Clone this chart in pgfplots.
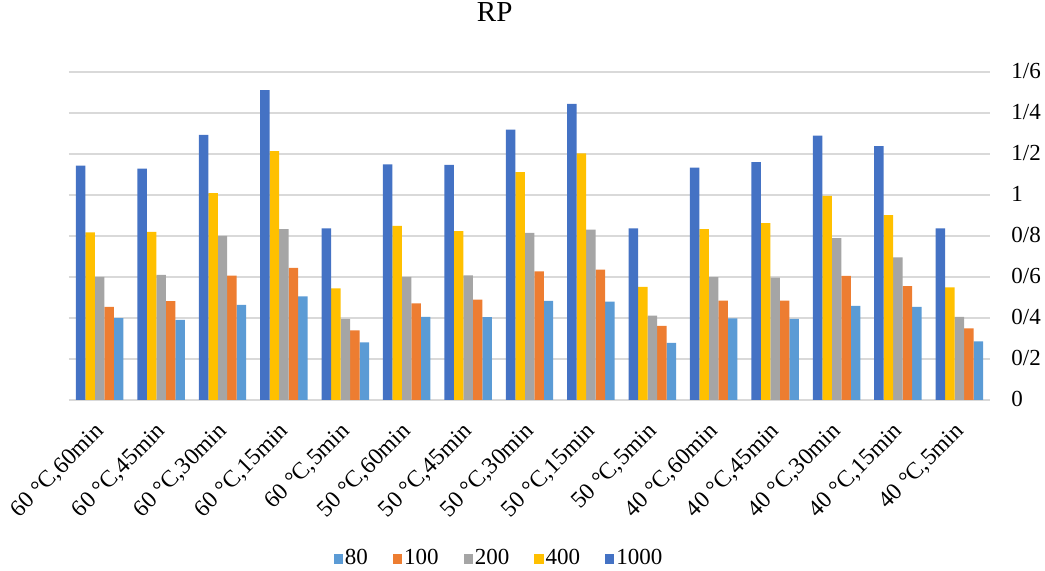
\documentclass[border=0pt]{standalone}
\usepackage{fontspec}
\setmainfont{Liberation Serif}
\usepackage{pgfplots}
\usepackage{pgfplotstable}
\pgfplotsset{compat=1.18}
\definecolor{c80}{HTML}{5B9BD5}
\definecolor{c100}{HTML}{ED7D31}
\definecolor{c200}{HTML}{A5A5A5}
\definecolor{c400}{HTML}{FFC000}
\definecolor{c1000}{HTML}{4472C4}
\definecolor{gridc}{HTML}{D9D9D9}
\pgfplotstableread{
x v80 v100 v200 v400 v1000
0 0.399 0.454 0.600 0.818 1.143
1 0.391 0.482 0.610 0.820 1.129
2 0.464 0.607 0.800 1.009 1.293
3 0.506 0.644 0.834 1.214 1.511
4 0.281 0.339 0.396 0.545 0.837
5 0.406 0.471 0.600 0.849 1.149
6 0.404 0.490 0.608 0.824 1.147
7 0.484 0.628 0.815 1.112 1.319
8 0.480 0.636 0.831 1.203 1.444
9 0.279 0.362 0.411 0.552 0.837
10 0.398 0.485 0.599 0.834 1.133
11 0.396 0.485 0.597 0.863 1.160
12 0.459 0.605 0.789 0.996 1.290
13 0.454 0.555 0.696 0.902 1.238
14 0.286 0.349 0.406 0.549 0.837
}\datatable
\pgfplotsset{mybar/.style 2 args={ybar, bar width=0.1547, bar shift=#1, fill=#2, draw=none,
  legend image code/.code={\fill[#2] (0pt,-2.4pt) rectangle (4.6pt,2.4pt);}}}
\begin{document}
\begin{tikzpicture}
\useasboundingbox (0,0) rectangle (522.5pt,285.5pt);
\begin{axis}[
  at={(34.5pt,85.5pt)}, anchor=south west,
  scale only axis, width=460.5pt, height=164pt,
  xmin=-0.5, xmax=14.5, ymin=0, ymax=1.6,
  axis line style={draw=none},
  ymajorgrids, grid style={gridc, line width=1pt},
  major tick length=0pt,
  xtick={0,...,14},
  xticklabels={{60 °C,60min},{60 °C,45min},{60 °C,30min},{60 °C,15min},{60 °C,5min},
               {50 °C,60min},{50 °C,45min},{50 °C,30min},{50 °C,15min},{50 °C,5min},
               {40 °C,60min},{40 °C,45min},{40 °C,30min},{40 °C,15min},{40 °C,5min}},
  xticklabel style={xshift=-3pt, yshift=-10.5pt, rotate=45, anchor=north east, inner sep=0pt,
    font=\fontsize{11.8}{14}\selectfont},
  ytick={0,0.2,0.4,0.6,0.8,1,1.2,1.4,1.6},
  yticklabels={0,0/2,0/4,0/6,0/8,1,1/2,1/4,1/6},
  ytick pos=right,
  yticklabel style={anchor=base west, inner sep=0pt, xshift=10.5pt, yshift=-0.33em,
    font=\fontsize{11.5}{13}\selectfont},
  title={RP},
  title style={at={(axis description cs:0.4622,1.1177)}, anchor=base, inner sep=0pt,
    font=\fontsize{14.5}{16}\selectfont},
  legend columns=-1,
  legend style={draw=none, fill=none, inner sep=0pt, nodes={inner sep=1pt},
    font=\fontsize{11.5}{13}\selectfont,
    /tikz/every even column/.append style={column sep=11.5pt},
    at={(axis description cs:0.4669,-0.484)}, anchor=center},
]
\addplot[mybar={0.3094}{c80}] table[x=x, y=v80] {\datatable};
\addplot[mybar={0.1547}{c100}] table[x=x, y=v100] {\datatable};
\addplot[mybar={0}{c200}] table[x=x, y=v200] {\datatable};
\addplot[mybar={-0.1547}{c400}] table[x=x, y=v400] {\datatable};
\addplot[mybar={-0.3094}{c1000}] table[x=x, y=v1000] {\datatable};
\legend{80,100,200,400,1000}
\end{axis}
\end{tikzpicture}
\end{document}
